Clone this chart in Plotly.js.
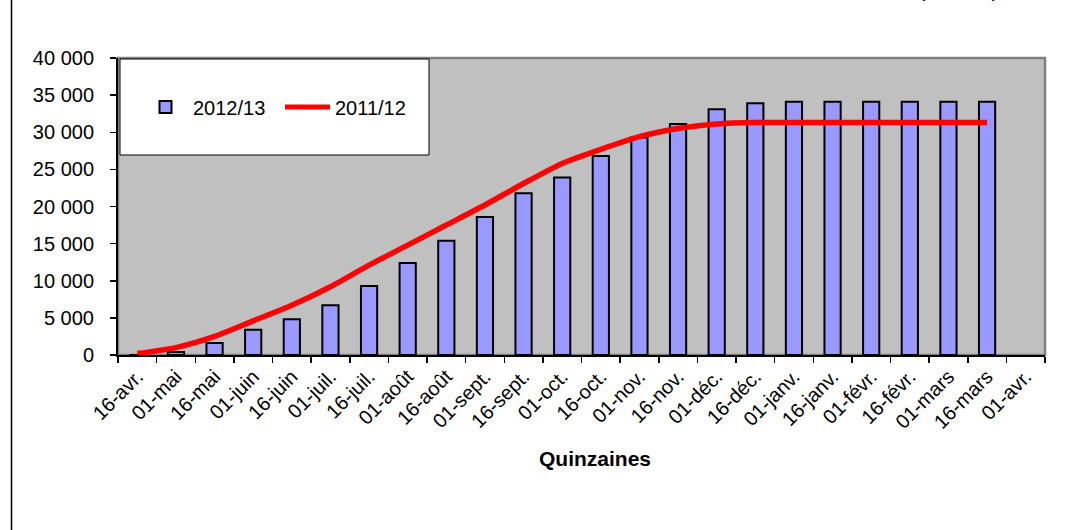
<!DOCTYPE html>
<html>
<head>
<meta charset="utf-8">
<script src="https://cdn.plot.ly/plotly-3.0.1.min.js"></script>
<style>
  html, body { margin: 0; padding: 0; background: #ffffff; }
  #chart { width: 1076px; height: 530px; }
</style>
</head>
<body>
<div id="chart"></div>
<script>
// Categories (quinzaines)
var categories = ["16-avr.", "01-mai", "16-mai", "01-juin", "16-juin", "01-juil.", "16-juil.",
  "01-août", "16-août", "01-sept.", "16-sept.", "01-oct.", "16-oct.", "01-nov.", "16-nov.",
  "01-déc.", "16-déc.", "01-janv.", "16-janv.", "01-févr.", "16-févr.", "01-mars", "16-mars", "01-avr."];

// Series 2012/13 (bars), 16-avr. .. 16-mars
var barCategories = categories.slice(0, 23);
var values2012 = [0, 400, 1600, 3400, 4800, 6700, 9300, 12400, 15400, 18600, 21800, 23900, 26800,
  29300, 31100, 33100, 33900, 34100, 34100, 34100, 34100, 34100, 34100];

// Series 2011/12 (line), 16-avr. .. 16-mars
var values2011 = [200, 1000, 2500, 4600, 6700, 9200, 12100, 14800, 17500, 20200, 23100, 25800, 27700,
  29400, 30500, 31100, 31300, 31300, 31300, 31300, 31300, 31300, 31300];

var yTicks = [0, 5000, 10000, 15000, 20000, 25000, 30000, 35000, 40000];

var FONT = "Arial, 'Liberation Sans', sans-serif";

var traces = [
  {
    type: "bar",
    name: "2012/13",
    x: barCategories,
    y: values2012,
    marker: { color: "#9999FF", line: { color: "#000000", width: 2 } },
    hoverinfo: "x+y"
  },
  {
    type: "scatter",
    mode: "lines",
    name: "2011/12",
    x: barCategories,
    y: values2011,
    line: { color: "#FF0000", width: 5.5, shape: "spline", smoothing: 0.6 },
    hoverinfo: "x+y"
  }
];

// pixel helpers for the plot area (left 118, right 1045, top 58, bottom 355)
function px2x(px) { return (px - 118) / 927; }
function py2y(py) { return (355 - py) / 297; }

var layout = {
  width: 1076,
  height: 530,
  margin: { l: 118, r: 31, t: 58, b: 175 },
  paper_bgcolor: "#FFFFFF",
  plot_bgcolor: "#C0C0C0",
  separators: ", ",
  font: { family: FONT, size: 20, color: "#000000" },
  bargap: 0.58,
  showlegend: true,
  legend: {
    orientation: "h",
    x: px2x(138), xanchor: "left",
    y: py2y(107), yanchor: "middle",
    bgcolor: "rgba(0,0,0,0)",
    borderwidth: 0,
    font: { family: FONT, size: 20, color: "#000000" },
    itemwidth: 45,
    itemsizing: "constant",
    entrywidth: 82,
    traceorder: "normal"
  },
  xaxis: {
    type: "category",
    categoryorder: "array",
    categoryarray: categories,
    range: [-0.5, categories.length - 0.5],
    tickmode: "array",
    tickvals: categories,
    ticktext: categories,
    tickson: "boundaries",
    ticks: "outside",
    ticklen: 6,
    tickwidth: 1.5,
    tickcolor: "#000000",
    tickangle: -45,
    tickfont: { family: FONT, size: 20, color: "#000000" },
    showline: true,
    linecolor: "#000000",
    linewidth: 2,
    showgrid: false,
    zeroline: false,
    fixedrange: true
  },
  yaxis: {
    range: [0, 40000],
    tickmode: "array",
    tickvals: yTicks,
    tickformat: ",d",
    ticks: "outside",
    ticklen: 6,
    tickwidth: 1.5,
    tickcolor: "#000000",
    ticklabelstandoff: 12,
    tickfont: { family: FONT, size: 20, color: "#000000" },
    showline: true,
    linecolor: "#000000",
    linewidth: 2,
    showgrid: false,
    zeroline: false,
    fixedrange: true
  },
  shapes: [
    // plot area border (gray, top/right)
    { type: "rect", xref: "paper", yref: "paper", x0: 0, x1: 1, y0: 0, y1: 1,
      line: { color: "#808080", width: 2.5 }, fillcolor: "rgba(0,0,0,0)", layer: "below" },
    // legend box
    { type: "rect", xref: "paper", yref: "paper",
      x0: px2x(120), x1: px2x(429), y0: py2y(155), y1: py2y(59),
      line: { color: "#000000", width: 1 }, fillcolor: "#FFFFFF", layer: "above" },
    // left frame line
    { type: "line", xref: "paper", yref: "paper",
      x0: px2x(11.5), x1: px2x(11.5), y0: py2y(0), y1: py2y(530),
      line: { color: "#000000", width: 1.5 } }
  ],
  annotations: [
    { text: "<b>Quinzaines</b>", xref: "paper", yref: "paper",
      x: px2x(595), y: py2y(458), xanchor: "center", yanchor: "middle",
      showarrow: false, font: { family: FONT, size: 21, color: "#000000" } },
    { text: "(tonnes)", xref: "paper", yref: "paper",
      x: px2x(958), y: py2y(3), xanchor: "center", yanchor: "bottom",
      showarrow: false, font: { family: FONT, size: 22, color: "#000000" } }
  ]
};

Plotly.newPlot("chart", traces, layout, { displayModeBar: false, staticPlot: true });
</script>
</body>
</html>
